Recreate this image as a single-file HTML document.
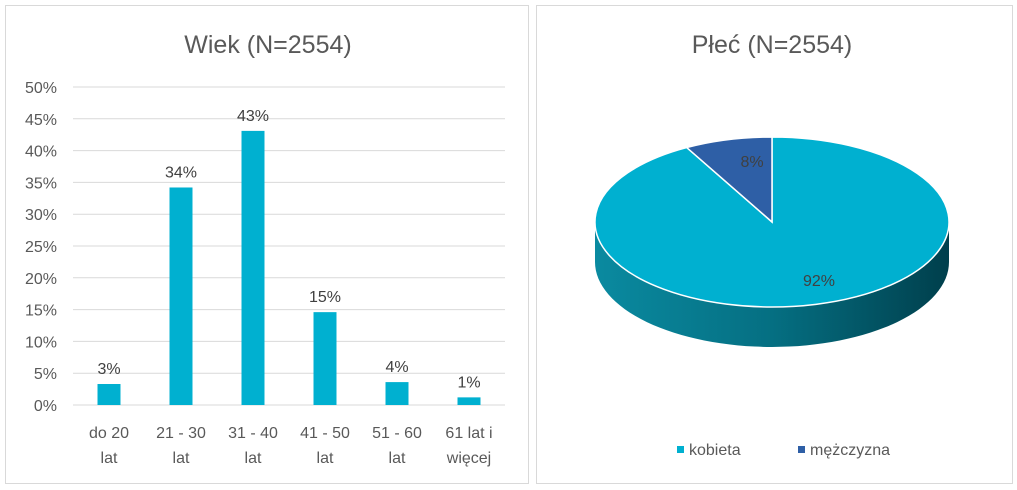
<!DOCTYPE html>
<html><head><meta charset="utf-8"><style>
body{margin:0;background:#fff;font-family:"Liberation Sans",sans-serif;}
svg{display:block}
</style></head><body>
<svg id="s" width="1017" height="490" viewBox="0 0 1017 490">
<defs>
<linearGradient id="side" x1="0" x2="1" y1="0" y2="0">
<stop offset="0" stop-color="#0a8aa0"/><stop offset="0.5" stop-color="#056f82"/><stop offset="1" stop-color="#003f4c"/>
</linearGradient>
</defs>
<rect x="5.5" y="5.5" width="523" height="478" fill="#fff" stroke="#d9d9d9"/>
<rect x="536.5" y="5.5" width="476" height="478" fill="#fff" stroke="#d9d9d9"/>
<text x="268" y="53" font-size="25" fill="#595959" text-anchor="middle">Wiek (N=2554)</text>
<text x="772" y="53" font-size="25" fill="#595959" text-anchor="middle">Płeć (N=2554)</text>
<g id="bars"></g><g id="pie"></g>
</svg>
<script>
const categories=[["do 20","lat"],["21 - 30","lat"],["31 - 40","lat"],["41 - 50","lat"],["51 - 60","lat"],["61 lat i","więcej"]];
const values=[3.3,34.2,43.1,14.6,3.6,1.2];
const valueLabels=["3%","34%","43%","15%","4%","1%"];
const yTicks=[0,5,10,15,20,25,30,35,40,45,50];
const pieLabels=["kobieta","mężczyzna"];
const pieValues=[92,8];
const NS="http://www.w3.org/2000/svg";
function mk(t,a,p,txt){const e=document.createElementNS(NS,t);for(const k in a)e.setAttribute(k,a[k]);if(txt!=null)e.textContent=txt;p.appendChild(e);return e;}
const g=document.getElementById('bars');
const x0=73,x1=505,yb=405,yt=87;
const y=v=>yb-(v/50)*(yb-yt);
const bw=(x1-x0)/categories.length;
yTicks.forEach(t=>{
 const l=mk('line',{x1:x0,x2:x1,y1:y(t),y2:y(t),stroke:'#d9d9d9'},g);
 
 const tx=mk('text',{x:57,y:y(t)+6,'font-size':16,fill:'#595959','text-anchor':'end'},g,t+'%');
 
});
values.forEach((v,i)=>{
 const cx=x0+bw*(i+0.5);
 const r=mk('rect',{x:cx-11.5,y:y(v),width:23,height:yb-y(v),fill:'#00b0d0'},g);
 
 const lb=mk('text',{x:cx,y:y(v)-10,'font-size':16,fill:'#404040','text-anchor':'middle'},g,valueLabels[i]);
 
 categories[i].forEach((c,j)=>{
  const ct=mk('text',{x:cx,y:438+j*25,'font-size':16,fill:'#595959','text-anchor':'middle'},g,c);
  
 });
});
// pie
const p=document.getElementById('pie');
const cx=772,cy=222,rx=177,ry=85,d=40;
const side=mk('path',{d:`M${cx-rx},${cy} L${cx-rx},${cy+d} A${rx},${ry} 0 0 0 ${cx+rx},${cy+d} L${cx+rx},${cy} A${rx},${ry} 0 0 1 ${cx-rx},${cy} Z`,fill:'url(#side)'},p);

const total=pieValues.reduce((a,b)=>a+b,0);
const colors=['#00b0d0','#2e5fa6'];
const pt=a=>[cx+rx*Math.sin(a),cy-ry*Math.cos(a)];
let start=0;
pieValues.forEach((v,i)=>{
 const ang=v/total*2*Math.PI;
 const a0=start,a1=start+ang;
 const [sx,sy]=pt(a0),[ex,ey]=pt(a1);
 const s=mk('path',{d:`M${cx},${cy} L${sx},${sy} A${rx},${ry} 0 ${ang>Math.PI?1:0} 1 ${ex},${ey} Z`,fill:colors[i],stroke:'#fff','stroke-width':1.5},p);
 
 const m=(a0+a1)/2;const k=i==0?0.55:0.7;
 const lp=[cx+rx*k*Math.sin(m),cy-ry*k*Math.cos(m)];
 const lx=i==0?lp[0]-25:lp[0]+5;
 const lt=mk('text',{x:i==0?cx+47:cx-20,y:i==0?cy+64:cy-55,'font-size':16,fill:'#404040','text-anchor':'middle'},p,Math.round(v/total*100)+'%');
 
 start=a1;
});
const lxs=[677,798];
pieLabels.forEach((n,i)=>{
 const r=mk('rect',{x:lxs[i],y:446,width:7,height:7,fill:colors[i]},p);
 
 const t=mk('text',{x:lxs[i]+12,y:455,'font-size':16,fill:'#595959'},p,n);
 
});
</script>
</body></html>
